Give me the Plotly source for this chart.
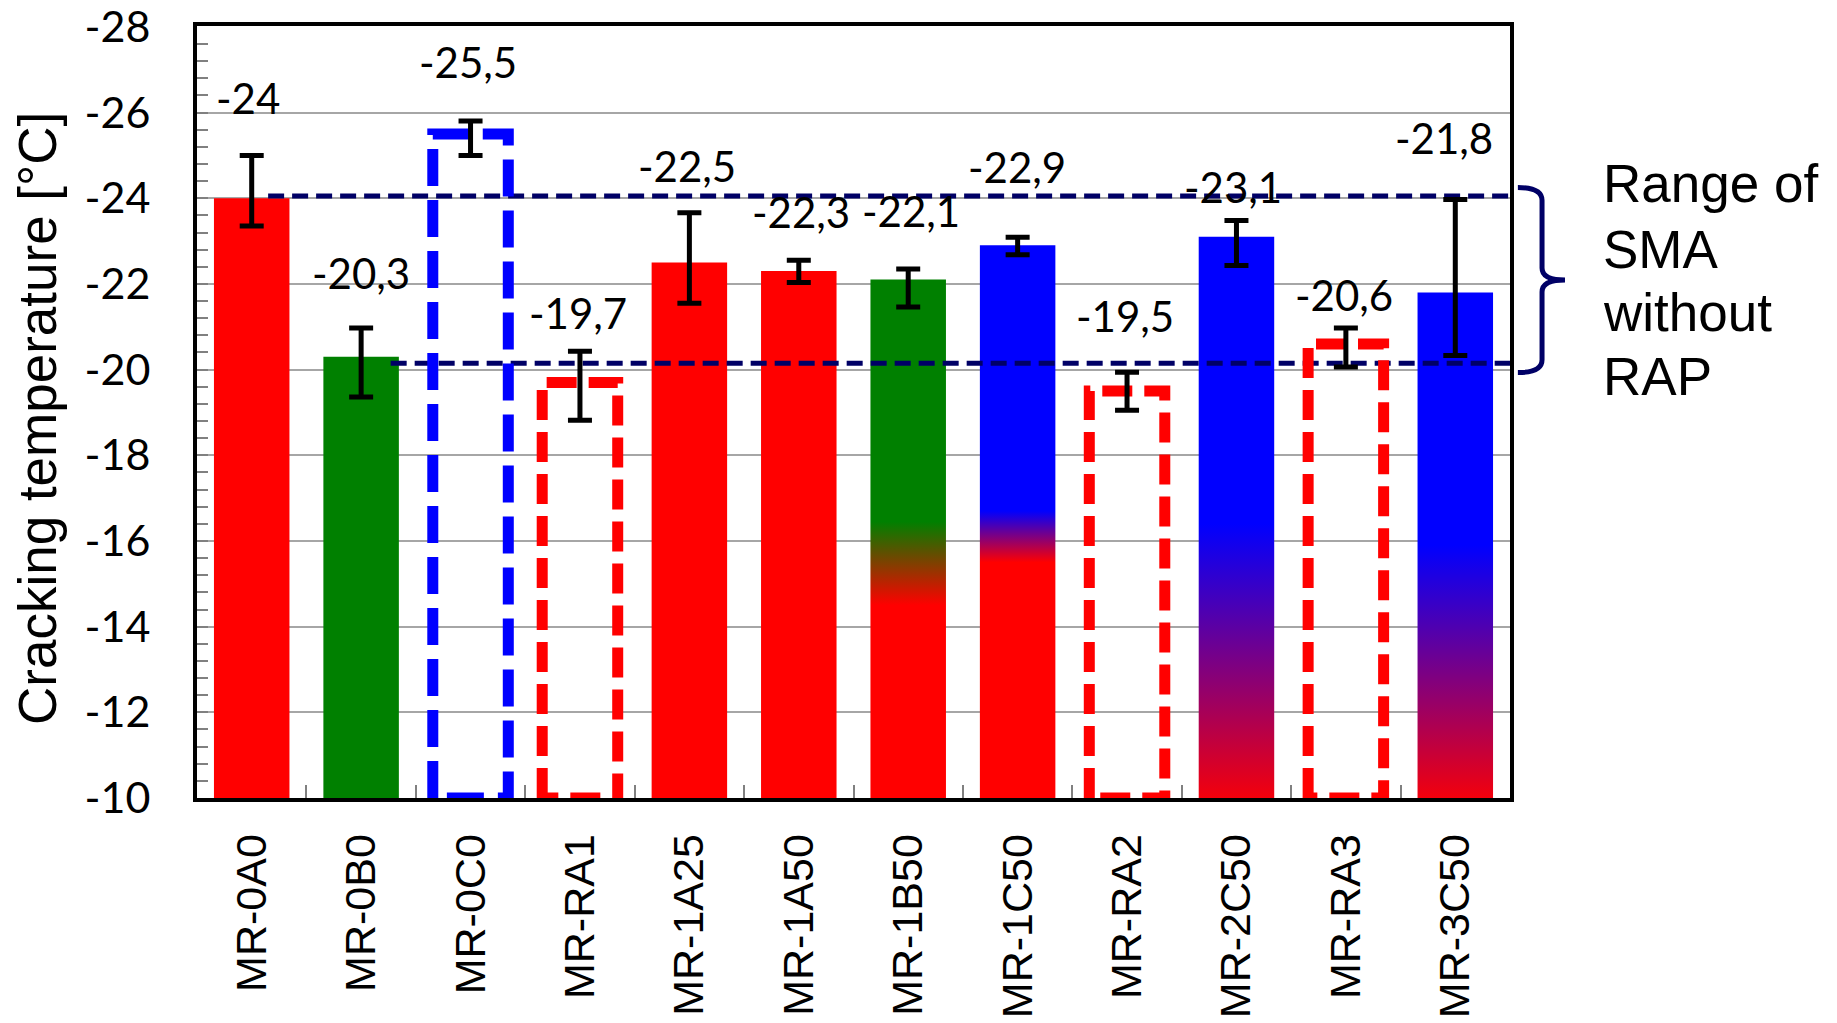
import plotly.graph_objects as go

# ---- data -------------------------------------------------------------
categories = ["MR-0A0", "MR-0B0", "MR-0C0", "MR-RA1", "MR-1A25", "MR-1A50",
              "MR-1B50", "MR-1C50", "MR-RA2", "MR-2C50", "MR-RA3", "MR-3C50"]
crack_temp = [-24.0, -20.3, -25.5, -19.7, -22.5, -22.3,
              -22.1, -22.9, -19.5, -23.1, -20.6, -21.8]
# error bar extents: towards colder (more negative) and towards warmer values
err_colder = [1.0, 0.67, 0.3, 0.73, 1.16, 0.25, 0.25, 0.19, 0.44, 0.38, 0.37, 2.17]
err_warmer = [0.65, 0.94, 0.5, 0.88, 0.95, 0.27, 0.64, 0.22, 0.45, 0.67, 0.54, 1.47]
# range of SMA mixes without RAP
sma_range = [-24.05, -20.15]
y_ticks = [-28, -26, -24, -22, -20, -18, -16, -14, -12, -10]

# ---- styling ----------------------------------------------------------
RED, GREEN, BLUE, NAVY = "#ff0000", "#008000", "#0000ff", "#000066"
NUM_FONT = "Lato"
TXT_FONT = "Liberation Sans, Arial"
HALF_W = 0.345
Y_BASE = -10

# bar style per category: solid fill, gradient fill or dashed outline
solid = {0: RED, 1: GREEN, 4: RED, 5: RED}
gradient = {  # idx: (top colour, bottom colour, gradient start, gradient stop)
    6: (GREEN, RED, -16.45, -14.5),
    7: (BLUE, RED, -16.7, -15.5),
    9: (BLUE, RED, -16.4, -9.7),
    11: (BLUE, RED, -15.9, -9.7),
}
outline = {2: (BLUE, "37px,14px"), 3: (RED, "30px,12px"),
           8: (RED, "30px,12px"), 10: (RED, "30px,12px")}

# value-label placement (axis units)
label_y = [-26.33, -22.25, -27.18, -21.32, -24.76, -23.69,
           -23.71, -24.74, -21.24, -24.27, -21.73, -25.4]
label_dx = [-0.03, 0, -0.02, -0.02, -0.02, 0.02, 0.03, -0.01, -0.02, -0.03, -0.02, -0.1]

xs = list(range(len(categories)))
fig = go.Figure()

# solid bars
fig.add_trace(go.Bar(
    x=xs, y=crack_temp, width=2 * HALF_W,
    marker=dict(color=[solid.get(i, "rgba(0,0,0,0)") for i in xs], line=dict(width=0)),
    hoverinfo="skip", showlegend=False,
))

# gradient-filled bars
for i, (c_top, c_bot, g0, g1) in gradient.items():
    v = crack_temp[i]
    fig.add_trace(go.Scatter(
        x=[i - HALF_W, i - HALF_W, i + HALF_W, i + HALF_W],
        y=[Y_BASE, v, v, Y_BASE],
        mode="lines", fill="toself", line=dict(width=0),
        fillgradient=dict(type="vertical", colorscale=[[0, c_top], [1, c_bot]],
                          start=g0, stop=g1),
        hoverinfo="skip", showlegend=False,
    ))

# SMA range lines
fig.add_trace(go.Scatter(x=[0.15, 11.5], y=[sma_range[0]] * 2, mode="lines",
                         line=dict(color=NAVY, width=5, dash="16px,8px"),
                         cliponaxis=False, hoverinfo="skip", showlegend=False))
fig.add_trace(go.Scatter(x=[1.27, 11.59], y=[sma_range[1]] * 2, mode="lines",
                         line=dict(color=NAVY, width=5, dash="16px,8px"),
                         cliponaxis=False, hoverinfo="skip", showlegend=False))

# dashed outline bars
for i, (col, dash) in outline.items():
    v = crack_temp[i]
    fig.add_trace(go.Scatter(
        x=[i - HALF_W, i - HALF_W, i + HALF_W, i + HALF_W, i - HALF_W],
        y=[Y_BASE, v, v, Y_BASE, Y_BASE],
        mode="lines", line=dict(color=col, width=11, dash=dash),
        cliponaxis=False, hoverinfo="skip", showlegend=False,
    ))

# error bars
fig.add_trace(go.Scatter(
    x=xs, y=crack_temp, mode="markers",
    marker=dict(size=1, color="rgba(0,0,0,0)"),
    error_y=dict(type="data", symmetric=False, array=err_warmer, arrayminus=err_colder,
                 color="black", thickness=5, width=12),
    hoverinfo="skip", showlegend=False,
))

# value labels
for i, v in enumerate(crack_temp):
    fig.add_annotation(x=i + label_dx[i], y=label_y[i], text=f"{v:g}".replace(".", ","),
                       showarrow=False, xanchor="center", yanchor="middle",
                       font=dict(family=NUM_FONT, size=42, color="black"))

# axis title
fig.add_annotation(xref="paper", yref="paper", x=-0.1219, y=0.4922,
                   text="Cracking temperature [°C]", textangle=-90, showarrow=False,
                   xanchor="center", yanchor="middle",
                   font=dict(family=TXT_FONT, size=53, color="black"))

# brace and its caption
lo, hi = -19.93, -24.25
mid = (lo + hi) / 2
fig.add_shape(
    type="path", xref="paper", yref="y",
    path=(f"M 1.006,{hi} Q 1.0244,{hi} 1.0244,{hi + 0.3} L 1.0244,{mid - 0.28} "
          f"Q 1.0244,{mid} 1.0419,{mid} Q 1.0244,{mid} 1.0244,{mid + 0.28} "
          f"L 1.0244,{lo - 0.3} Q 1.0244,{lo} 1.006,{lo}"),
    line=dict(color=NAVY, width=5),
)
for line_txt, ypix in zip(["Range of", "SMA", "without", "RAP"], [184, 249, 312, 376.5]):
    fig.add_annotation(xref="paper", yref="paper", x=(1601 - 197) / 1313,
                       y=(798 - ypix) / 772, text=line_txt, showarrow=False,
                       xanchor="left", yanchor="middle",
                       font=dict(family=TXT_FONT, size=53, color="black"))

minor_y = [round(-28 + 0.4 * k, 2) for k in range(46) if (k % 5) != 0]

fig.update_layout(
    width=1837, height=1023,
    margin=dict(l=197, r=327, t=26, b=225),
    paper_bgcolor="white", plot_bgcolor="white",
    bargap=0.31,
    xaxis=dict(
        range=[-0.5, 11.5], tickmode="array", tickvals=xs, ticktext=categories,
        tickangle=-90, ticks="", ticklabelstandoff=15, automargin=False,
        ticklabeloverflow="allow",
        tickfont=dict(family=TXT_FONT, size=43, color="black"),
        showgrid=False, zeroline=False,
        showline=True, linecolor="black", linewidth=4, mirror=True,
        minor=dict(tickmode="array", tickvals=[k + 0.5 for k in range(11)],
                   ticks="inside", ticklen=13, tickwidth=2, tickcolor="#808080"),
    ),
    yaxis=dict(
        range=[-10, -28.02], tickmode="array", tickvals=y_ticks,
        ticktext=[str(t) for t in y_ticks],
        ticks="inside", ticklen=11, tickwidth=2, tickcolor="#808080",
        ticklabelstandoff=34, automargin=False, ticklabeloverflow="allow",
        tickfont=dict(family=NUM_FONT, size=43, color="black"),
        showgrid=True, gridcolor="#a6a6a6", gridwidth=2, zeroline=False,
        showline=True, linecolor="black", linewidth=4, mirror=True,
        minor=dict(tickmode="array", tickvals=minor_y, ticks="inside",
                   ticklen=11, tickwidth=2, tickcolor="#808080", showgrid=False),
    ),
)

fig.write_html("out.html")
